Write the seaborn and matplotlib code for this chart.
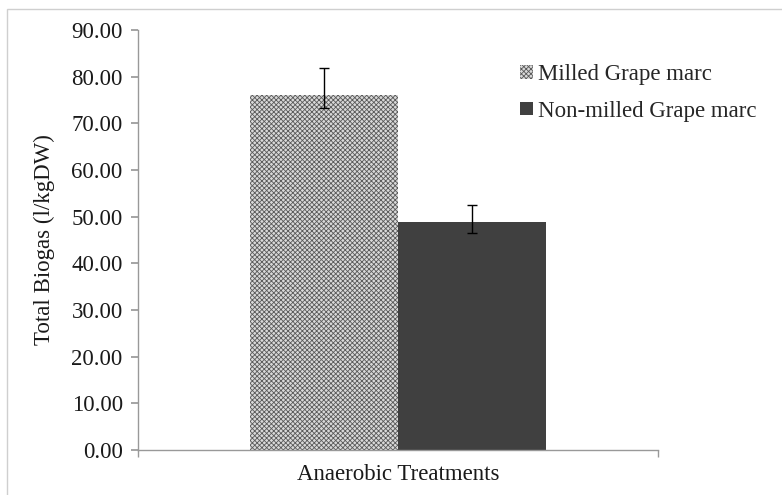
import matplotlib
matplotlib.use("Agg")
import matplotlib.pyplot as plt
from matplotlib.patches import Rectangle
import seaborn as sns
import pandas as pd

# data
category = ["Anaerobic Treatments"]
treatments = ["Milled Grape marc", "Non-milled Grape marc"]
biogas = [76.0, 48.8]
err_low = [2.8, 2.2]
err_high = [5.9, 3.6]
yticks = [0, 10, 20, 30, 40, 50, 60, 70, 80, 90]

df = pd.DataFrame({"cat": category * len(treatments),
                   "treatment": treatments,
                   "biogas": biogas})

sns.set_theme(style="white")
plt.rcParams["font.family"] = ["Liberation Serif", "DejaVu Serif"]
plt.rcParams["hatch.linewidth"] = 0.6
plt.rcParams["hatch.color"] = "#5a5a5a"

FS = 16.5
PATTERN = "xxxxxxx"

fig = plt.figure(figsize=(7.82, 4.95), dpi=100)
ax = fig.add_axes([138 / 782, 1 - 450 / 495, 520 / 782, 420 / 495])

sns.barplot(data=df, x="cat", y="biogas", hue="treatment",
            palette=["#d9d9d9", "#404040"], width=0.57, saturation=1,
            errorbar=None, ax=ax, legend=False)

# pattern on the milled bar
bars = ax.patches[:len(treatments)]
bars[0].set_hatch(PATTERN)
bars[0].set_edgecolor("#5a5a5a")
bars[0].set_linewidth(0)
bars[1].set_linewidth(0)

# error bars at the centres of the drawn bars
xs = [b.get_x() + b.get_width() / 2 for b in bars]
tops = [b.get_height() for b in bars]
ax.errorbar(xs, tops, yerr=[err_low, err_high], fmt="none",
            ecolor="black", elinewidth=1, capsize=3.5, capthick=1)

ax.set_xlim(-0.5, 0.5)
ax.set_ylim(0, 90)
ax.set_yticks(yticks)
ax.set_yticklabels([f"{v:.2f}" for v in yticks])
ax.set_xticks([0])
ax.set_xticklabels([""])
ax.set_xticks([-0.5, 0.5], minor=True)
ax.tick_params(axis="x", which="major", length=0, pad=0)
ax.tick_params(axis="x", which="minor", direction="out", length=5,
               color="#999999", bottom=True)
ax.tick_params(axis="y", direction="out", length=5, color="#999999",
               left=True, labelsize=FS, pad=6, labelcolor="#1a1a1a")

for s in ["top", "right"]:
    ax.spines[s].set_visible(False)
for s in ["left", "bottom"]:
    ax.spines[s].set_color("#999999")
    ax.spines[s].set_linewidth(1)

ax.set_xlabel("Anaerobic Treatments", fontsize=FS, color="#1a1a1a", labelpad=2)
ax.set_ylabel("Total Biogas (l/kgDW)", fontsize=FS, color="#1a1a1a", labelpad=12)

leg_handles = [Rectangle((0, 0), 1, 1, facecolor=b.get_facecolor(),
                         hatch=b.get_hatch(), edgecolor=b.get_edgecolor(),
                         linewidth=0) for b in bars]
ax.legend(leg_handles, treatments, loc="upper left", frameon=False, fontsize=FS,
          bbox_to_anchor=(520 / 782, 1 - 64 / 495), bbox_transform=fig.transFigure,
          handlelength=0.55, handleheight=0.55, handletextpad=0.25,
          labelspacing=0.68, borderpad=0, borderaxespad=0)

# outer chart border (cut off at right and bottom)
fig.add_artist(Rectangle((7 / 782, -0.1), 1.2, 1.1 - 9 / 495,
                         transform=fig.transFigure, fill=False,
                         edgecolor="#cfcfcf", linewidth=1))

fig.savefig("out.png", dpi=100)
